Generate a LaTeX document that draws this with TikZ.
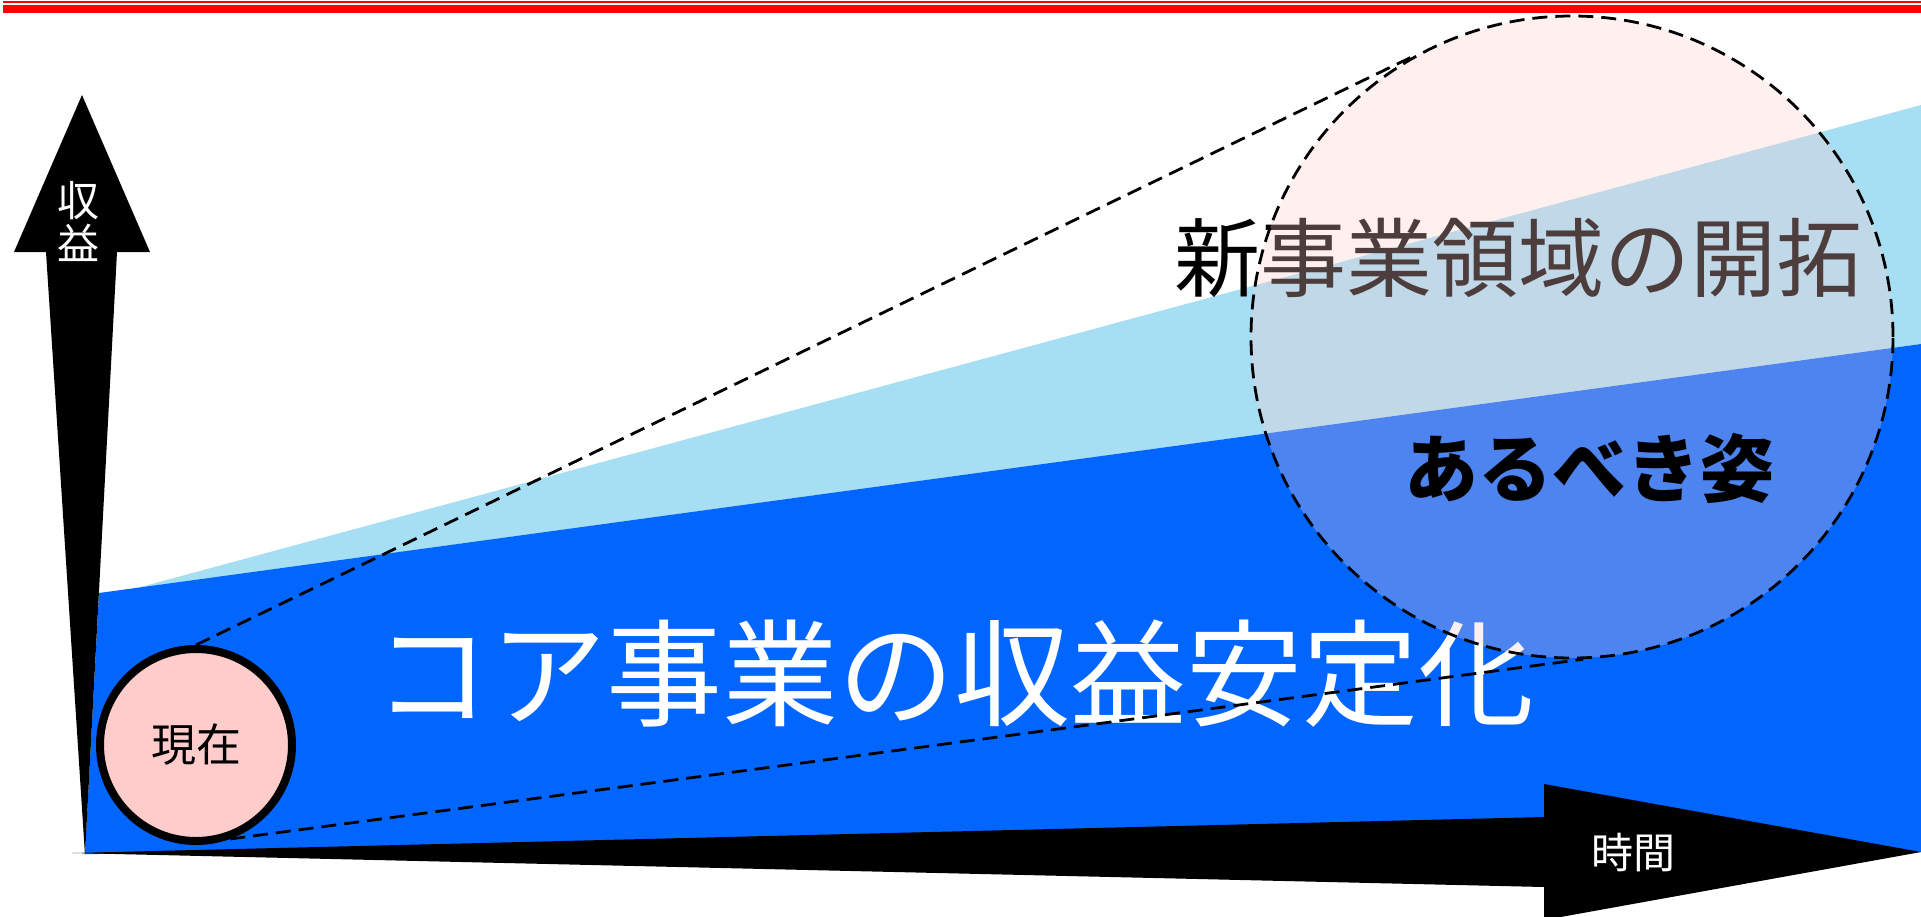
\documentclass[tikz,border=0pt]{standalone}
\usepackage{fontspec}
\setmainfont{Noto Sans CJK JP}
\definecolor{coreblue}{HTML}{0066FF}
\definecolor{lightblue}{HTML}{A6DEF3}
\definecolor{nowpink}{HTML}{FFCCCC}
\definecolor{topred}{HTML}{FF0000}
\tikzset{
  txt/.style={inner sep=0pt, outer sep=0pt},
  dashline/.style={draw=black, line width=2.8pt, dash pattern=on 15pt off 8pt},
}
\begin{document}
\begin{tikzpicture}[x=1pt,y=-1pt]
\useasboundingbox (0,0) rectangle (1921,916);
% top red double line
\fill[topred] (3,1) rectangle (1921,3.2);
\fill[topred] (3,5) rectangle (1921,12.7);
% regions
\fill[lightblue] (137,588) -- (1921,105) -- (1921,344) -- cycle;
\fill[coreblue] (85,854) -- (99,593) -- (1921,344) -- (1921,852) -- cycle;
% axes
\fill[black] (82,95) -- (150,252) -- (117,252) -- (85,855) -- (46,252) -- (14,252) -- cycle;
\fill[black] (72,853) -- (1544,817) -- (1544,784) -- (1921,852) -- (1544,920) -- (1544,887) -- cycle;
\node[txt, text=white, align=center, font=\fontsize{42}{43}\selectfont] (yl) at (78,221) {収\\益};
\node[txt, text=white, font=\fontsize{42}{42}\selectfont] (xl) at (1633,853) {時間};
% texts
\node[txt, text=white, font=\fontsize{116}{116}\selectfont] (core) at (954,674) {コア事業の収益安定化};
\node[txt, text=black, font=\fontsize{86}{86}\selectfont] (newbiz) at (1518,258) {新事業領域の開拓};
% current circle
\node[circle, draw=black, line width=8pt, fill=nowpink, minimum size=192pt, inner sep=0pt, font=\fontsize{45}{45}\selectfont] (now) at (196,745) {現在};
% ideal circle
\node[circle, dashline, fill=nowpink, fill opacity=0.3, minimum size=642pt, inner sep=0pt] (ideal) at (1572,337) {};
% tangent dashed lines
\draw[dashline] (now.90) -- (ideal.119);
\draw[dashline] (now.-70) -- (ideal.-88);
\node[txt, text=black, font=\fontsize{74}{74}\selectfont\bfseries] (ideal label) at (1589,468) {あるべき姿};
\end{tikzpicture}
\end{document}
